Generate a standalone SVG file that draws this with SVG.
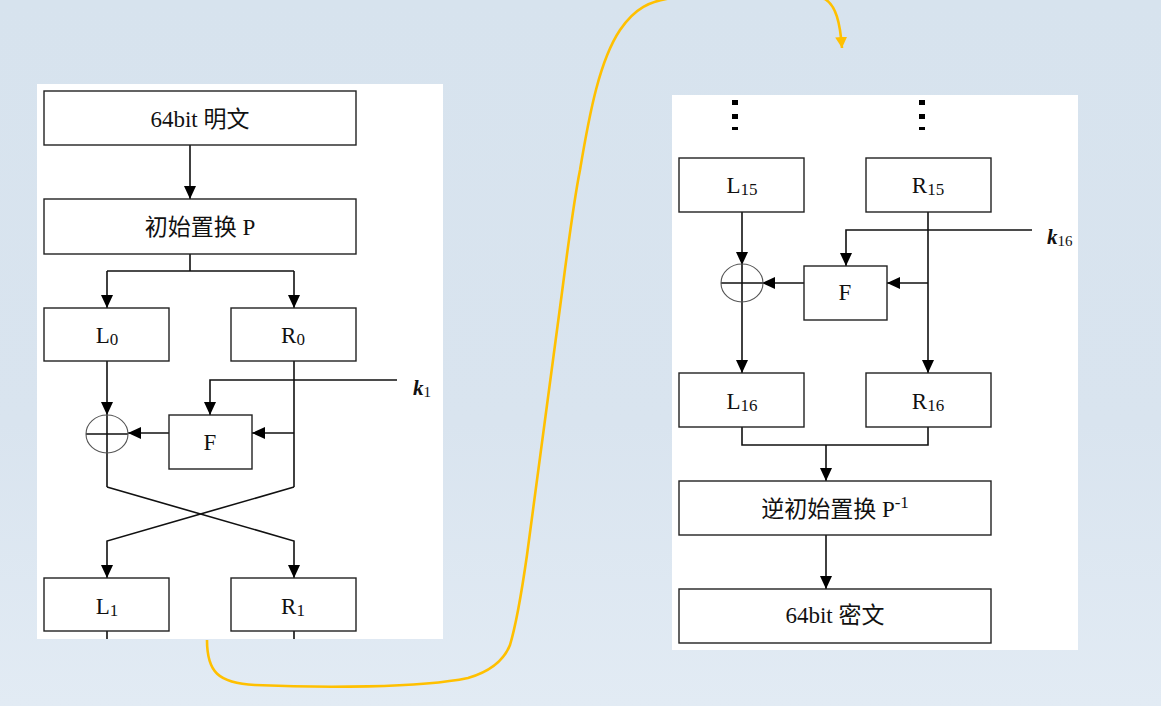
<svg xmlns="http://www.w3.org/2000/svg" width="1161" height="706" viewBox="0 0 1161 706">
<defs>
<linearGradient id="bg" x1="0" y1="0" x2="0" y2="1">
<stop offset="0" stop-color="#d7e3ee"/>
<stop offset="0.6" stop-color="#d9e4ef"/>
<stop offset="1" stop-color="#e2ebf4"/>
</linearGradient>
<marker id="ah" markerUnits="userSpaceOnUse" markerWidth="13" markerHeight="12" refX="13" refY="6" orient="auto">
<path d="M0,0 L13,6 L0,12 z" fill="#000"/>
</marker>
<marker id="yh" markerUnits="userSpaceOnUse" markerWidth="12" markerHeight="12" refX="11" refY="6" orient="auto">
<path d="M0,0 L11,6 L0,12 z" fill="#FFC000"/>
</marker>
<style>
.box{fill:#fff;stroke:#222;stroke-width:1.4}
.ln{fill:none;stroke:#111;stroke-width:1.6}
.ar{fill:none;stroke:#111;stroke-width:1.6;marker-end:url(#ah)}
.xor{fill:none;stroke:#555;stroke-width:1.1}
.t{font-family:"Liberation Serif","Noto Sans CJK SC",serif;font-size:23px;fill:#111;text-anchor:middle}
.sub{font-size:17px}
.k{font-family:"Liberation Serif",serif;font-size:21px;fill:#111}
.dot{fill:#000}
</style>
</defs>
<rect x="0" y="0" width="1161" height="706" fill="url(#bg)"/>
<rect x="37" y="84" width="406" height="555" fill="#fff"/>
<rect x="672" y="95" width="406" height="555" fill="#fff"/>

<g id="connectors">
<path class="ar" d="M190,145 V199"/>
<path class="ln" d="M190,254 V271 M107,271 H294"/>
<path class="ar" d="M107,271 V308"/>
<path class="ar" d="M294,271 V308"/>
<path class="ar" d="M107,361 V415"/>
<path class="ln" d="M107,415 V487 M86,434 H128"/>
<path class="ln" d="M294,361 V487"/>
<path class="ar" d="M294,433 H252"/>
<path class="ar" d="M169,433 H128"/>
<path class="ar" d="M397,380 H210 V415"/>
<path class="ar" d="M107,487 L294,541 V578"/>
<path class="ar" d="M294,487 L107,541 V578"/>
<path class="ln" d="M107,631 V639 M294,631 V639"/>

<path class="ar" d="M742,212 V265"/>
<path class="ln" d="M742,265 V302 M721,283 H762"/>
<path class="ar" d="M742,302 V373"/>
<path class="ar" d="M928,212 V373"/>
<path class="ar" d="M928,283 H887"/>
<path class="ar" d="M804,283 H762"/>
<path class="ar" d="M1032,230 H846 V266"/>
<path class="ln" d="M742,427 V445 H928 V427"/>
<path class="ar" d="M826,445 V481"/>
<path class="ar" d="M826,535 V589"/>

<path fill="none" stroke="#FFC000" stroke-width="2.6" marker-end="url(#yh)" d="M207,640 C207,672 218,683 255,685 C320,688 420,688 468,678 C492,671 504,660 510,645 C516,625 522,590 527,555 L561,300 C566,262 573,205 580,170 C590,110 600,60 620,30 C635,8 650,1 672,-2 C720,-8 790,-8 825,-1 C836,6 840,22 842,48"/>
</g>

<g id="n-plain"><rect class="box" x="44" y="91" width="312" height="54"/><text class="t" x="200" y="127">64bit 明文</text></g>
<g id="n-ip"><rect class="box" x="44" y="199" width="312" height="55"/><text class="t" x="200" y="235">初始置换 P</text></g>
<g id="n-L0"><rect class="box" x="44" y="308" width="125" height="53"/><text class="t" x="107" y="343">L<tspan class="sub" dy="2">0</tspan></text></g>
<g id="n-R0"><rect class="box" x="231" y="308" width="125" height="53"/><text class="t" x="293" y="343">R<tspan class="sub" dy="2">0</tspan></text></g>
<g id="n-xor1"><ellipse class="xor" cx="107" cy="434" rx="21" ry="19"/></g>
<g id="n-F1"><rect class="box" x="169" y="415" width="83" height="54"/><text class="t" x="210" y="450">F</text></g>
<g id="n-k1"><text class="k" x="413" y="395"><tspan font-style="italic" font-weight="bold">k</tspan><tspan font-size="15" dy="2">1</tspan></text></g>
<g id="n-L1"><rect class="box" x="44" y="578" width="125" height="53"/><text class="t" x="107" y="614">L<tspan class="sub" dy="2">1</tspan></text></g>
<g id="n-R1"><rect class="box" x="231" y="578" width="125" height="53"/><text class="t" x="293" y="614">R<tspan class="sub" dy="2">1</tspan></text></g>

<g id="n-dots">
<rect class="dot" x="732" y="100" width="6" height="5"/><rect class="dot" x="732" y="114" width="6" height="5"/><rect class="dot" x="732" y="127" width="6" height="3"/>
<rect class="dot" x="919" y="100" width="6" height="5"/><rect class="dot" x="919" y="114" width="6" height="5"/><rect class="dot" x="919" y="127" width="6" height="3"/>
</g>
<g id="n-L15"><rect class="box" x="679" y="158" width="125" height="54"/><text class="t" x="742" y="193">L<tspan class="sub" dy="2">15</tspan></text></g>
<g id="n-R15"><rect class="box" x="866" y="158" width="125" height="54"/><text class="t" x="928" y="193">R<tspan class="sub" dy="2">15</tspan></text></g>
<g id="n-xor16"><ellipse class="xor" cx="742" cy="283" rx="21" ry="19"/></g>
<g id="n-F16"><rect class="box" x="804" y="266" width="83" height="54"/><text class="t" x="845" y="300">F</text></g>
<g id="n-k16"><text class="k" x="1047" y="244"><tspan font-style="italic" font-weight="bold">k</tspan><tspan font-size="15" dy="2">16</tspan></text></g>
<g id="n-L16"><rect class="box" x="679" y="373" width="125" height="54"/><text class="t" x="742" y="409">L<tspan class="sub" dy="2">16</tspan></text></g>
<g id="n-R16"><rect class="box" x="866" y="373" width="125" height="54"/><text class="t" x="928" y="409">R<tspan class="sub" dy="2">16</tspan></text></g>
<g id="n-fp"><rect class="box" x="679" y="481" width="312" height="54"/><text class="t" x="835" y="517">逆初始置换 P<tspan class="sub" dy="-9">-1</tspan></text></g>
<g id="n-cipher"><rect class="box" x="679" y="589" width="312" height="54"/><text class="t" x="835" y="623">64bit 密文</text></g>
</svg>
